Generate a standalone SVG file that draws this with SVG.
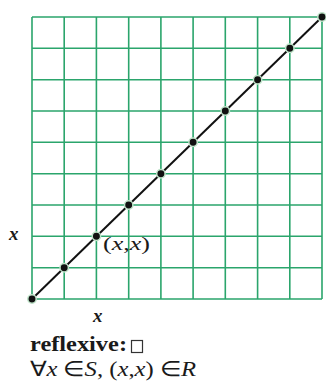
<svg xmlns="http://www.w3.org/2000/svg" width="326" height="382" viewBox="0 0 326 382">
<style>
.g{stroke:#2ba56c;stroke-width:1.6;fill:none}
.d{fill:#111;stroke:#bfe3c9;stroke-width:1.5}
.t{font-family:"Liberation Serif","Times New Roman",serif;fill:#1a1a1a}
.i{font-style:italic}
</style>
<rect width="326" height="382" fill="#fff"/>
<g id="grid" class="g">
<path d="M32,17V299M64.2,17V299M96.4,17V299M128.7,17V299M160.9,17V299M193.1,17V299M225.3,17V299M257.6,17V299M289.8,17V299M322,17V299"/>
<path d="M32,17H322M32,48.3H322M32,79.7H322M32,111H322M32,142.3H322M32,173.7H322M32,205H322M32,236.3H322M32,267.7H322M32,299H322"/>
</g>
<g id="connectors">
<line x1="32" y1="299" x2="322" y2="17" stroke="#111" stroke-width="2"/>
</g>
<g id="dots">
<circle class="d" cx="32" cy="299" r="4.2"/>
<circle class="d" cx="64.2" cy="267.7" r="4.2"/>
<circle class="d" cx="96.4" cy="236.3" r="4.2"/>
<circle class="d" cx="128.7" cy="205" r="4.2"/>
<circle class="d" cx="160.9" cy="173.7" r="4.2"/>
<circle class="d" cx="193.1" cy="142.3" r="4.2"/>
<circle class="d" cx="225.3" cy="111" r="4.2"/>
<circle class="d" cx="257.6" cy="79.7" r="4.2"/>
<circle class="d" cx="289.8" cy="48.3" r="4.2"/>
<circle class="d" cx="322" cy="17" r="4.2"/>
</g>
<g id="labels">
<text class="t i" x="9" y="240" font-size="19" font-weight="bold">x</text>
<text class="t" x="103" y="250" font-size="19" textLength="47" lengthAdjust="spacingAndGlyphs">(<tspan class="i">x</tspan>,<tspan class="i">x</tspan>)</text>
<text class="t i" x="93" y="322" font-size="19" font-weight="bold">x</text>
<text class="t" x="30" y="351" font-size="21" font-weight="bold" textLength="97" lengthAdjust="spacingAndGlyphs">reflexive:</text>
<rect x="131.5" y="340.5" width="11" height="12" fill="none" stroke="#333" stroke-width="1.2"/>
<text class="t" x="30" y="376" font-size="21" textLength="166" lengthAdjust="spacingAndGlyphs">∀<tspan class="i">x</tspan> ∈<tspan class="i">S</tspan>, (<tspan class="i">x</tspan>,<tspan class="i">x</tspan>) ∈<tspan class="i">R</tspan></text>
</g>
</svg>
